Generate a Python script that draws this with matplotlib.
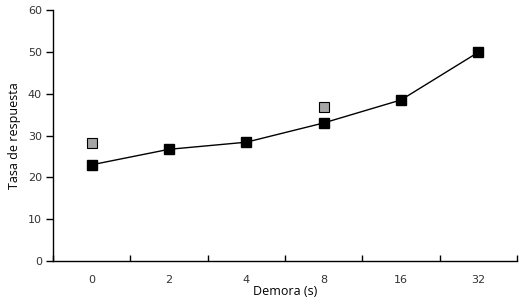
import matplotlib
matplotlib.use("Agg")
import matplotlib.pyplot as plt
import numpy as np

categories = ["0", "2", "4", "8", "16", "32"]
black_vals = [23.0, 26.7, 28.4, 33.0, 38.5, 49.9]
gray_idx = [0, 3]
gray_vals = [28.2, 36.8]

fig = plt.figure(figsize=(5.29, 3.03), dpi=100)
ax = fig.add_axes([0.1002, 0.1386, 0.8771, 0.8284])

x = np.arange(len(categories))
ax.plot(x, black_vals, color="black", lw=1, marker="s", ms=7, mfc="black", mec="black", zorder=3)
ax.plot(gray_idx, gray_vals, ls="none", marker="s", ms=6.5, mfc="#a6a6a6", mec="black", mew=0.8, zorder=4)

ax.set_xlim(-0.5, len(categories) - 0.5)
ax.set_ylim(0, 60)
ax.set_yticks(range(0, 61, 10))

ax.set_xticks(x)
ax.set_xticklabels(categories)
ax.tick_params(axis="x", which="major", length=0, pad=10)
ax.set_xticks(np.arange(-0.5, len(categories), 1), minor=True)
ax.tick_params(axis="x", which="minor", direction="in", length=4, width=1)
ax.tick_params(axis="y", direction="out", length=5, width=1, pad=3)

for lbl in ax.get_xticklabels() + ax.get_yticklabels():
    lbl.set_fontfamily("DejaVu Sans")
    lbl.set_fontsize(8)
    lbl.set_color("#333333")

ax.spines["top"].set_visible(False)
ax.spines["right"].set_visible(False)
ax.spines["left"].set_linewidth(1)
ax.spines["bottom"].set_linewidth(1)

ax.set_xlabel("Demora (s)", fontsize=9, family="Open Sans", labelpad=0)
ax.set_ylabel("Tasa de respuesta", fontsize=9, family="Open Sans", labelpad=5)

fig.savefig("out.png", dpi=100)
